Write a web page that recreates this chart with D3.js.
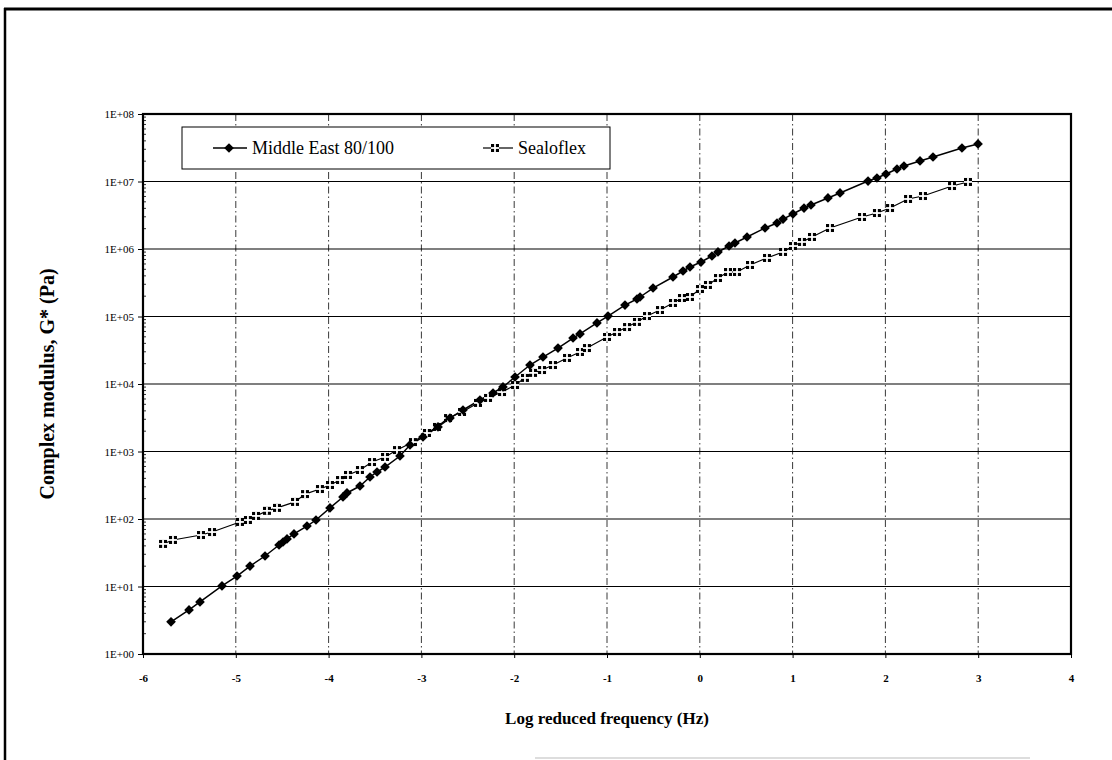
<!DOCTYPE html>
<html><head><meta charset="utf-8">
<script src="https://cdn.jsdelivr.net/npm/d3@7/dist/d3.min.js"></script>
<style>body{margin:0;background:#fff}svg{display:block}text{font-family:"Liberation Serif","Times New Roman",serif}</style>
</head><body><svg id="c" width="1112" height="760"></svg>
<script>
const seriesNames = ["Middle East 80/100", "Sealoflex"];
const xTicks = [-6,-5,-4,-3,-2,-1,0,1,2,3,4];
const yTicks = [1e0,1e1,1e2,1e3,1e4,1e5,1e6,1e7,1e8];
const yTickLabels = ["1E+00","1E+01","1E+02","1E+03","1E+04","1E+05","1E+06","1E+07","1E+08"];
const xTitle = "Log reduced frequency (Hz)";
const yTitle = "Complex modulus, G* (Pa)";

const meX = [-5.698,-5.504,-5.386,-5.149,-4.987,-4.847,-4.685,-4.534,-4.491,-4.448,-4.373,-4.233,-4.136,-3.985,-3.845,-3.802,-3.662,-3.554,-3.478,-3.392,-3.231,-3.123,-2.983,-2.821,-2.692,-2.552,-2.369,-2.228,-2.121,-1.991,-1.830,-1.690,-1.528,-1.366,-1.291,-1.108,-0.989,-0.806,-0.677,-0.644,-0.504,-0.289,-0.181,-0.106,0.013,0.131,0.196,0.315,0.379,0.509,0.703,0.832,0.897,1.004,1.123,1.198,1.381,1.511,1.813,1.909,2.006,2.125,2.200,2.373,2.513,2.825,2.998];
const meG = [3.0,4.5,5.9,10.2,14.3,20.1,28.3,41.2,45.6,50.6,60.0,78.7,96.6,146,212,243,308,419,497,589,857,1250,1640,2310,3130,4120,5790,7360,9040,12700,19100,25100,34100,48000,55100,80200,101600,147900,181600,194500,264200,384600,472100,540800,641200,787000,903600,1.107e6,1.227e6,1.507e6,2.046e6,2.427e6,2.780e6,3.304e6,4.046e6,4.487e6,5.702e6,6.761e6,1.016e7,1.127e7,1.291e7,1.531e7,1.698e7,2.014e7,2.307e7,3.133e7,3.597e7];

const sfX = [-5.784,-5.677,-5.375,-5.256,-4.955,-4.869,-4.782,-4.664,-4.556,-4.362,-4.254,-4.093,-3.985,-3.877,-3.791,-3.662,-3.532,-3.392,-3.263,-3.091,-2.940,-2.832,-2.713,-2.562,-2.390,-2.282,-2.131,-1.991,-1.884,-1.797,-1.700,-1.582,-1.431,-1.291,-1.216,-1.000,-0.892,-0.784,-0.677,-0.569,-0.429,-0.289,-0.192,-0.106,0.002,0.088,0.196,0.304,0.401,0.541,0.724,0.897,1.004,1.101,1.209,1.403,1.748,1.909,2.050,2.244,2.405,2.718,2.890];
const sfG = [42.7,48.9,57.9,64.1,90.4,96.6,111,132,146,179,234,278,319,378,449,532,698,830,1050,1380,1880,2310,3130,3850,5240,6210,7600,9660,12300,14600,16100,19100,24300,29800,34100,49700,58900,69800,83000,101600,124700,158500,187900,194500,255300,293100,371500,456000,456000,579400,736200,903600,1.107e6,1.271e6,1.507e6,2.046e6,2.979e6,3.412e6,4.046e6,5.508e6,6.095e6,8.570e6,9.840e6];

const svg = d3.select("#c");
const L=143, R=1071, T=114, B=654;
const x = d3.scaleLinear().domain([-6,4]).range([L,R]);
const y = d3.scaleLog().domain([1,1e8]).range([B,T]);

// outer frame
svg.append("line").attr("x1",5).attr("x2",5).attr("y1",8).attr("y2",760).attr("stroke","#000").attr("stroke-width",2.5);
svg.append("line").attr("x1",4).attr("x2",1112).attr("y1",9).attr("y2",9).attr("stroke","#000").attr("stroke-width",3);
svg.append("line").attr("x1",535).attr("x2",1030).attr("y1",758).attr("y2",758).attr("stroke","#bbb").attr("stroke-width",1);

// vertical grid (dash-dot)
svg.append("g").selectAll("line").data(xTicks.slice(1,-1)).join("line")
  .attr("x1",d=>x(d)).attr("x2",d=>x(d)).attr("y1",T).attr("y2",B)
  .attr("stroke","#222").attr("stroke-width",0.9).attr("stroke-dasharray","7,3,1.5,3");
// horizontal grid
svg.append("g").selectAll("line").data(yTicks.slice(1,-1)).join("line")
  .attr("x1",L).attr("x2",R).attr("y1",d=>y(d)).attr("y2",d=>y(d))
  .attr("stroke","#000").attr("stroke-width",1.2);

// minor ticks on y axis
const minor=[];
for(let e=0;e<8;e++) for(let m=2;m<=9;m++) minor.push(m*Math.pow(10,e));
svg.append("g").selectAll("line").data(minor).join("line")
  .attr("x1",L).attr("x2",L+3).attr("y1",d=>y(d)).attr("y2",d=>y(d)).attr("stroke","#000").attr("stroke-width",0.8);

// axes
const xAxis = d3.axisBottom(x).tickValues(xTicks).tickSize(4).tickFormat(d3.format("d"));
const gx = svg.append("g").attr("transform",`translate(0,${B})`).call(xAxis);
gx.select(".domain").remove();
gx.selectAll("line").attr("stroke","#000");
gx.selectAll("text").attr("font-size",11).attr("font-weight","bold").attr("fill","#000").attr("dy","1.9em")
  .text(d=>d<0?"-"+Math.abs(d):d);
const yAxis = d3.axisLeft(y).tickValues(yTicks).tickSize(5).tickFormat((d,i)=>yTickLabels[i]);
const gy = svg.append("g").attr("transform",`translate(${L},0)`).call(yAxis);
gy.select(".domain").remove();
gy.selectAll("line").attr("stroke","#000");
gy.selectAll("text").attr("font-size",11).attr("fill","#000").attr("x",-9);

// plot border
svg.append("rect").attr("x",L).attr("y",T).attr("width",R-L).attr("height",B-T)
  .attr("fill","none").attr("stroke","#000").attr("stroke-width",2.2);

// lines
const line = d3.line().x(d=>x(d[0])).y(d=>y(d[1]));
const meData = meX.map((v,i)=>[v,meG[i]]);
const sfData = sfX.map((v,i)=>[v,sfG[i]]);
svg.append("path").datum(sfData).attr("d",line).attr("fill","none").attr("stroke","#000").attr("stroke-width",1.2);
svg.append("path").datum(meData).attr("d",line).attr("fill","none").attr("stroke","#000").attr("stroke-width",1.5);

const diamond = d3.symbol().type(d3.symbolDiamond2).size(60);
function drawDiamonds(g,data){
  g.selectAll("path.m").data(data).join("path").attr("class","m")
   .attr("transform",d=>`translate(${x(d[0])},${y(d[1])})`)
   .attr("d",diamond).attr("fill","#000");
}
function drawSquares(g,data){
  const s=g.selectAll("g.s").data(data).join("g").attr("class","s")
    .attr("transform",d=>`translate(${x(d[0])},${y(d[1])})`);
  s.append("rect").attr("x",-4).attr("y",-4).attr("width",8).attr("height",8).attr("fill","#000");
  s.append("line").attr("x1",-4).attr("x2",4).attr("y1",0).attr("y2",0).attr("stroke","#fff").attr("stroke-width",1.8);
  s.append("line").attr("y1",-4).attr("y2",4).attr("x1",0).attr("x2",0).attr("stroke","#fff").attr("stroke-width",1.8);
}
drawSquares(svg.append("g"),sfData);
drawDiamonds(svg.append("g"),meData);

// legend
const lg = svg.append("g");
lg.append("rect").attr("x",182).attr("y",127).attr("width",428).attr("height",42).attr("fill","#fff").attr("stroke","#000").attr("stroke-width",1);
lg.append("line").attr("x1",213).attr("x2",247).attr("y1",148).attr("y2",148).attr("stroke","#000").attr("stroke-width",1.5);
lg.append("path").attr("transform","translate(229,148)").attr("d",diamond).attr("fill","#000");
lg.append("text").attr("x",252).attr("y",154).attr("font-size",18).text(seriesNames[0]);
lg.append("line").attr("x1",483).attr("x2",513).attr("y1",148).attr("y2",148).attr("stroke","#000").attr("stroke-width",1.2);
drawSquares(lg.append("g"),[[x.invert(495),y.invert(148)]]);
lg.append("text").attr("x",518).attr("y",154).attr("font-size",18).text(seriesNames[1]);

// titles
svg.append("text").attr("x",(L+R)/2).attr("y",724).attr("text-anchor","middle").attr("font-size",17).attr("font-weight","bold").text(xTitle);
svg.append("text").attr("transform",`translate(54,${(T+B)/2}) rotate(-90)`).attr("text-anchor","middle").attr("font-size",20).attr("font-weight","bold").text(yTitle);
</script></body></html>
